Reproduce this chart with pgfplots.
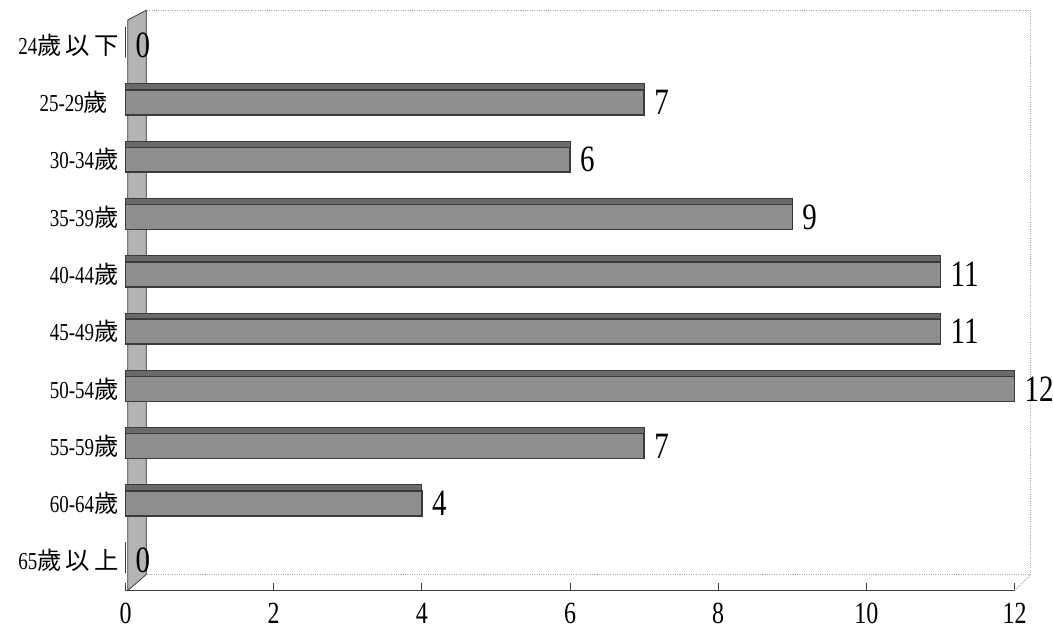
\documentclass[border=0pt]{standalone}
\usepackage{pgfplots}
\pgfplotsset{compat=1.18}
\usepackage{fontspec}
\setmainfont{Liberation Serif}[FakeStretch=0.78]
\newfontfamily\cjk{Noto Sans CJK TC}
\definecolor{barface}{HTML}{8E8E8E}
\definecolor{bartop}{HTML}{6A6A6A}
\definecolor{baredge}{HTML}{3A3A3A}
\definecolor{wall}{HTML}{B4B4B4}

\begin{document}
\begin{tikzpicture}
\begin{axis}[
  name=ax,
  xbar,
  scale only axis,
  width=694pt, height=453pt,
  xmin=0, xmax=12,
  ymin=-0.61, ymax=9.52,
  y dir=reverse,
  axis x line*=bottom,
  axis y line*=left,
  y axis line style={draw=none},
  x axis line style={draw=black!75, line width=0.8pt},
  xtick={0,2,4,6,8,10,12},
  ytick={0,...,9},
  yticklabels={
    24{\cjk 歲\,以\,下},
    25-29{\cjk 歲}\hspace*{8pt},
    30-34{\cjk 歲},
    35-39{\cjk 歲},
    40-44{\cjk 歲},
    45-49{\cjk 歲},
    50-54{\cjk 歲},
    55-59{\cjk 歲},
    60-64{\cjk 歲},
    65{\cjk 歲\,以\,上}},
  tick align=inside,
  major tick length=6pt,
  ytick style={draw=none},
  xtick style={draw=black!75, line width=0.8pt},
  /pgf/number format/assume math mode=true,
  xticklabel style={font=\fontsize{24}{24}\selectfont, yshift=-6pt},
  yticklabel style={font=\fontsize{19}{19}\selectfont, xshift=-2pt},
  clip=false,
]
% back wall
\draw[gray!70, densely dotted, line width=0.8pt]
  (axis cs:0.28,9.24) -- (axis cs:0.28,-0.61) -- (axis cs:12.22,-0.61) -- (axis cs:12.22,9.24) -- cycle;
\draw[gray!70, densely dotted, line width=0.8pt]
  (axis cs:12,9.52) -- (axis cs:12.22,9.24);
% left wall
\fill[wall, draw=baredge, line width=0.6pt]
  (axis cs:0.03,9.52) -- (axis cs:0.28,9.24) -- (axis cs:0.28,-0.61)
  -- (axis cs:0.03,-0.44) -- cycle;
% top face of the bars
\addplot[fill=bartop, draw=baredge, line width=0.8pt, bar width=5pt, bar shift=12pt, forget plot]
  coordinates {(0,0) (7,1) (6,2) (9,3) (11,4) (11,5) (12,6) (7,7) (4,8) (0,9)};
% front face with value labels
\addplot[fill=barface, draw=baredge, line width=1.2pt, bar width=19.5pt, bar shift=0pt,
  nodes near coords, nodes near coords align={horizontal},
  every node near coord/.append style={font=\fontsize{29}{29}\selectfont, black, xshift=4pt}]
  coordinates {(0,0) (7,1) (6,2) (9,3) (11,4) (11,5) (12,6) (7,7) (4,8) (0,9)};
\end{axis}
\pgfresetboundingbox
\useasboundingbox ([xshift=-98pt,yshift=-40pt]ax.south west) rectangle ([xshift=30pt,yshift=8pt]ax.north east);
\end{tikzpicture}
\end{document}
